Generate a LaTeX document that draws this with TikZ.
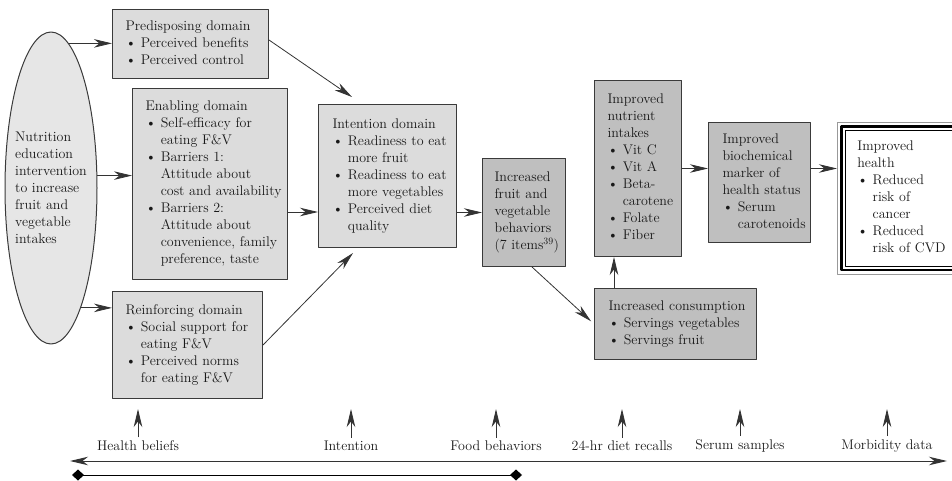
\documentclass[tikz,border=0pt]{standalone}
\usepackage{fontspec}
\usetikzlibrary{arrows.meta, shapes.geometric}

\definecolor{boxlight}{HTML}{DCDCDC}
\definecolor{boxdark}{HTML}{BFBFBF}
\definecolor{ellfill}{HTML}{E6E6E6}
\definecolor{edge}{HTML}{3A3A3A}

\newcommand{\bitem}{\textbullet\ }
\newcommand{\bcont}{\phantom{\textbullet\ }}
\newcommand{\boxlines}[1]{\begin{tabular}{@{}l@{}}#1\end{tabular}}

\tikzset{
	basebox/.style={draw=edge, line width=1pt, anchor=north west, inner xsep=13pt, inner ysep=0pt, text=black!90},
	lightbox/.style={basebox, fill=boxlight},
	darkbox/.style={basebox, fill=boxdark},
	link/.style={->, draw=black!80, line width=0.8pt},
}

\begin{document}
\begin{tikzpicture}[x=1pt, y=-1pt, >={Stealth[length=18pt,width=8.5pt,inset=5.5pt]}, line join=round, font=\fontsize{14}{17}\selectfont]
	\useasboundingbox (0,0) rectangle (952,481);
	
	% ==========================================
	% 1. Ellipse: the intervention
	% ==========================================
	\node[ellipse, draw=edge, fill=ellfill, line width=1pt, minimum width=92pt, minimum height=312pt, inner sep=0pt] (ell) at (51,188) {};
	\node[align=left, text=black!90] (elltext) at (ell.center) {Nutrition\\education\\intervention\\to increase\\fruit and\\vegetable\\intakes};
	
	% ==========================================
	% 2. The three domains and the intention
	% ==========================================
	\node[lightbox, text width=130pt, minimum height=69pt] (pred) at (112,9)
	{\boxlines{Predisposing domain\\ \bitem Perceived benefits\\ \bitem Perceived control}};
	
	\node[lightbox, text width=129pt, minimum height=191pt] (enab) at (132,88)
	{\boxlines{Enabling domain\\ \bitem Self-efficacy for\\ \bcont eating F\&V\\ \bitem Barriers 1:\\ \bcont Attitude about\\ \bcont cost and availability\\ \bitem Barriers 2:\\ \bcont Attitude about\\ \bcont convenience, family\\ \bcont preference, taste}};
	
	\node[lightbox, text width=124pt, minimum height=107pt] (reinf) at (112,291)
	{\boxlines{Reinforcing domain\\ \bitem Social support for\\ \bcont eating F\&V\\ \bitem Perceived norms\\ \bcont for eating F\&V}};
	
	\node[lightbox, inner xsep=14pt, text width=110pt, minimum height=143pt] (intent) at (318,104)
	{\boxlines{Intention domain\\ \bitem Readiness to eat\\ \bcont more fruit\\ \bitem Readiness to eat\\ \bcont more vegetables\\ \bitem Perceived diet\\ \bcont quality}};
	
	% ==========================================
	% 3. Behaviours, intakes and health
	% ==========================================
	\node[darkbox, inner xsep=12pt, text width=59pt, minimum height=108pt] (behav) at (482,158)
	{\boxlines{Increased\\fruit and\\vegetable\\behaviors\\(7 items\textsuperscript{39})}};
	
	\node[darkbox, text width=61pt, minimum height=176pt] (nutr) at (594,80)
	{\boxlines{Improved\\nutrient\\intakes\\ \bitem Vit C\\ \bitem Vit A\\ \bitem Beta-\\ \bcont carotene\\ \bitem Folate\\ \bitem Fiber}};
	
	\node[darkbox, inner xsep=14pt, text width=134pt, minimum height=71pt] (consum) at (594,288)
	{\boxlines{Increased consumption\\ \bitem Servings vegetables\\ \bitem Servings fruit}};
	
	\node[darkbox, inner xsep=14pt, text width=74pt, minimum height=120pt] (bioch) at (708,122)
	{\boxlines{Improved\\biochemical\\marker of\\health status\\ \bitem Serum\\ \bcont carotenoids}};
	
	\node[basebox, draw=gray!80, line width=0.7pt, fill=white, inner xsep=20pt, text width=110pt, minimum height=152pt] (health) at (837,122)
	{\boxlines{Improved\\health\\ \bitem Reduced\\ \bcont risk of\\ \bcont cancer\\ \bitem Reduced\\ \bcont risk of CVD}};
	% triple border
	\draw[line width=2.2pt] ([shift={(4.5pt,-4.5pt)}]health.north west) rectangle ([shift={(-4.5pt,4.5pt)}]health.south east);
	\draw[line width=0.7pt] ([shift={(8pt,-8pt)}]health.north west) rectangle ([shift={(-8pt,8pt)}]health.south east);
	
	% ==========================================
	% 4. Connectors
	% ==========================================
	\draw[link] (ell.83) -- (ell.83 -| pred.west);
	\draw[link] (ell.15) -- (ell.15 -| enab.west);
	\draw[link] (ell.-76) -- (ell.-76 -| reinf.west);
	
	\draw[link] ([yshift=4pt]pred.east) -- ([xshift=34pt,yshift=7pt]intent.north west);
	\draw[link] ([yshift=-28pt]enab.east) -- ([yshift=-28pt]enab.east -| intent.west);
	\draw[link] (reinf.east) -- ([xshift=35pt,yshift=-5pt]intent.south west);
	
	\draw[link] (intent.east |- behav.west) -- (behav.west);
	\draw[link, shorten >=4pt] ([xshift=8pt]behav.south) -- (consum.west);
	\draw[link] ([xshift=20pt]consum.north west) -- ([xshift=20pt]nutr.south west);
	\draw[link] (nutr.east) -- (nutr.east -| bioch.west);
	\draw[link] (bioch.east |- nutr.east) -- (nutr.east -| health.west);
	
	% ==========================================
	% 5. Measures along the bottom
	% ==========================================
	\foreach \n/\x/\lab in {hb/138/Health beliefs, it/351/Intention, fb/496/Food behaviors, dr/622/24-hr diet recalls, ss/740/Serum samples, md/887/Morbidity data} {
		\node[text=black!90] (\n) at (\x,446) {\lab};
		\coordinate (\n-up) at (\x,409);
		\draw[link] (\n) -- (\n-up);
	}
	
	\coordinate (axl) at (70,461);
	\coordinate (axr) at (947,461);
	\draw[<->, draw=black!80, line width=1pt] (axl) -- (axr);
	
	\coordinate (dml) at (72,475);
	\coordinate (dmr) at (522,475);
	\draw[{Diamond[length=12pt,width=11pt]}-{Diamond[length=12pt,width=11pt]}, line width=1pt] (dml) -- (dmr);
\end{tikzpicture}
\end{document}
